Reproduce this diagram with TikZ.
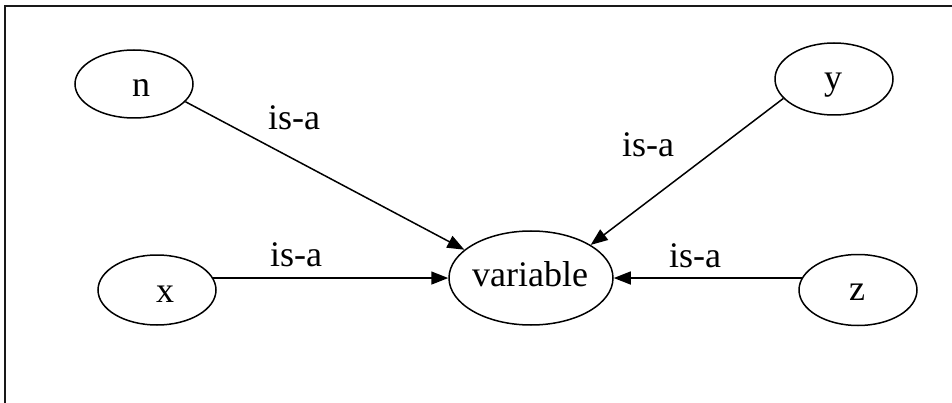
\documentclass[tikz,border=0pt]{standalone}
\usepackage{fontspec}
\setmainfont{Liberation Serif}
\usetikzlibrary{shapes.geometric,arrows.meta}

\tikzset{
  concept/.style={draw, ellipse, line width=1.5pt, inner sep=0pt},
  word/.style={anchor=base, inner sep=0pt, font=\fontsize{36}{43}\selectfont},
  isa/.style={draw, line width=1.5pt, -{Triangle[length=17pt,width=13pt]}},
  frameline/.style={draw, line width=2.2pt, color=black!90},
}

\begin{document}
\begin{tikzpicture}[x=1pt, y=-1pt]
  \useasboundingbox (0,0) rectangle (952,403);

  % open frame: top and left edges only
  \coordinate (fr-tr) at (952,6);
  \coordinate (fr-tl) at (5,6);
  \coordinate (fr-bl) at (5,403);
  \draw[frameline] (fr-tr) -- (fr-tl) -- (fr-bl);

  % concept ellipses
  \node[concept, minimum width=118pt, minimum height=68pt] (n) at (134,84) {};
  \node[concept, minimum width=118pt, minimum height=72pt] (y) at (834,79) {};
  \node[concept, minimum width=118pt, minimum height=70pt] (x) at (157,290) {};
  \node[concept, minimum width=118pt, minimum height=71pt] (z) at (858,290) {};
  \node[concept, minimum width=164pt, minimum height=94pt] (variable) at (531,278) {};

  % their names
  \node[word] (n-name) at (141,97) {n};
  \node[word] (y-name) at (833,90) {y};
  \node[word] (x-name) at (165,302) {x};
  \node[word] (z-name) at (857,300) {z};
  \node[word] (variable-name) at (530,286) {variable};

  % is-a links
  \draw[isa] (n.-19) -- (variable.157);
  \draw[isa] (y.201) -- (variable.29);
  \draw[isa] (x.12) -- (x.12 -| variable.west);
  \draw[isa] (z.168) -- (z.168 -| variable.east);

  % link labels
  \node[word] (isa-n) at (294,130) {is-a};
  \node[word] (isa-y) at (648,157) {is-a};
  \node[word] (isa-x) at (296,266) {is-a};
  \node[word] (isa-z) at (695,267) {is-a};
\end{tikzpicture}
\end{document}
